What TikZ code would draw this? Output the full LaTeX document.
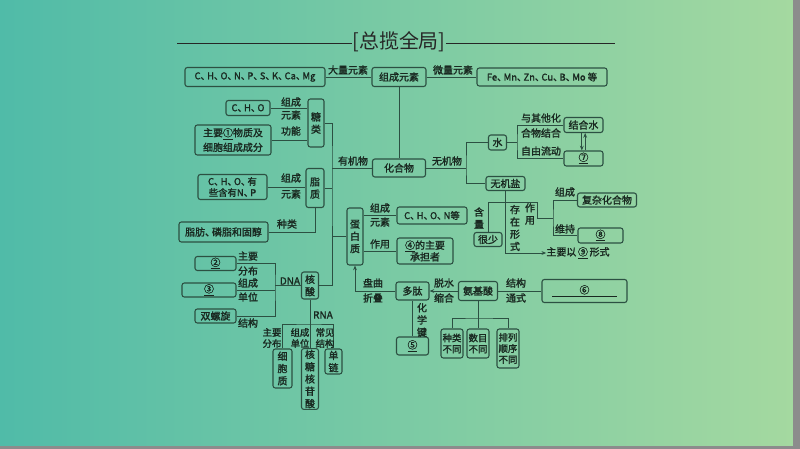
\documentclass[tikz,border=0pt]{standalone}
\usepackage{fontspec}
\setmainfont{Noto Sans CJK SC}
\newfontfamily\cjkb{Noto Sans CJK SC}[FakeBold=1.6]
\usetikzlibrary{arrows.meta}

\definecolor{bgleft}{RGB}{80,187,168}
\definecolor{bgright}{RGB}{165,217,160}
\definecolor{linec}{RGB}{44,80,66}
\definecolor{txtc}{RGB}{25,40,32}

\newcommand{\dn}{\makebox[0.7em][l]{、}}
\newcommand{\blank}[1]{\underline{#1}}

\begin{document}
\begin{tikzpicture}[x=0.03cm, y=-0.03cm, >={Stealth[length=4pt,width=3.2pt]},
    every node/.style={text=txtc, font=\cjkb\fontsize{8.5}{10}\selectfont},
    box/.style={draw=linec, line width=0.9pt, rounded corners=2pt, inner sep=1pt, align=center},
    vbox/.style={box, font=\cjkb\fontsize{8.5}{10.5}\selectfont},
    sz/.style 2 args={minimum width=#1*0.03cm, minimum height=#2*0.03cm},
    lab/.style={inner sep=0, align=center},
    vlab/.style={lab, font=\cjkb\fontsize{8.5}{10.5}\selectfont},
    small/.style={font=\cjkb\fontsize{8}{9.5}\selectfont},
    conn/.style={draw=linec, line width=0.8pt}]

    % Background
    \shade[left color=bgleft, right color=bgright] (0,0) rectangle (800,449);
    \fill[gray!90] (0,446) rectangle (800,449);
    \fill[gray!90] (793,0) rectangle (800,449);
    \useasboundingbox (0,0) rectangle (800,449);

    % Title
    \node[lab, text=black!85, font=\fontsize{17}{20}\selectfont] (title) at (399,42) {[总揽全局]};
    \coordinate (ttl) at (177,43);
    \coordinate (ttr) at (615,43);
    \draw[black!85, line width=0.8pt] (ttl) -- (title.west |- ttl);
    \draw[black!85, line width=0.8pt] (title.east |- ttr) -- (ttr);

    % Top row
    \node[box, small, sz={140}{19}] (dlys) at (255,77) {C\dn H\dn O\dn N\dn P\dn S\dn K\dn Ca\dn Mg};
    \node[box, sz={54}{19}] (zcys) at (399,77) {组成元素};
    \node[box, small, sz={130}{18}] (wlys) at (542,77) {Fe\dn Mn\dn Zn\dn Cu\dn B\dn Mo 等};
    \node[lab] (l1) at (348,70) {大量元素};
    \node[lab] (l2) at (453,70) {微量元素};
    \draw[conn] (dlys.east) -- (zcys.west);
    \draw[conn] (zcys.east) -- (wlys.west);

    % Compounds
    \node[box, sz={53}{18}] (hhw) at (399,168) {化合物};
    \draw[conn] (zcys.south) -- (hhw.north);
    \coordinate (yjw) at (332,168);
    \coordinate (wjw) at (466,168);
    \draw[conn] (hhw.west) -- (yjw);
    \draw[conn] (hhw.east) -- (wjw);
    \node[lab] (l3) at (353,161) {有机物};
    \node[lab] (l4) at (447,161) {无机物};

    % Sugars
    \node[vbox, sz={16}{48}] (tang) at (316,123) {糖\\类};
    \node[box, small, sz={44}{15}] (cho) at (248,108) {C\dn H\dn O};
    \node[box, sz={76}{30}, font=\cjkb\fontsize{8.5}{12.5}\selectfont] (gongneng) at (233,140) {主要\blank{①}物质及\\细胞组成成分};
    \draw[conn] (cho.east) -- (cho.east -| tang.west);
    \draw[conn] (gongneng.east) -- (gongneng.east -| tang.west);
    \node[lab] (l5) at (291,102) {组成};
    \node[lab] (l6) at (291,115) {元素};
    \node[lab] (l7) at (291,131) {功能};

    % Lipids
    \node[vbox, sz={18}{39}] (zhizhi) at (315,188) {脂\\质};
    \node[box, small, sz={69}{25}] (chonp) at (232.5,187) {C\dn H\dn O\dn 有\\些含有N\dn P};
    \node[box, sz={89}{20}] (zfl) at (223.5,232) {脂肪\dn 磷脂和固醇};
    \draw[conn] (chonp.east) -- (chonp.east -| zhizhi.west);
    \draw[conn] (zfl.east) -| (zhizhi.south);
    \node[lab] (l8) at (291,178) {组成};
    \node[lab] (l9) at (291,194) {元素};
    \node[lab] (l10) at (287,224) {种类};

    % Proteins
    \node[vbox, sz={16}{57}] (dbz) at (355,236.5) {蛋\\白\\质};
    \node[box, small, sz={70}{17}] (chon) at (432,215.5) {C\dn H\dn O\dn N等};
    \node[box, sz={56}{26}] (cdz) at (425,251) {\blank{④}的主要\\承担者};
    \draw[conn] (dbz.east |- chon.west) -- (chon.west);
    \draw[conn] (dbz.east |- cdz.west) -- (cdz.west);
    \node[lab] (l11) at (380,208) {组成};
    \node[lab] (l12) at (380,222) {元素};
    \node[lab] (l13) at (380,244) {作用};

    % Nucleic acids
    \node[vbox, sz={17}{27}] (hesuan) at (310,285.5) {核\\酸};
    \draw[conn] (tang.east) -| (yjw) |- (hesuan.east);
    \draw[conn] (zhizhi.east) -- (zhizhi.east -| yjw);
    \draw[conn] (dbz.west) -- (dbz.west -| yjw);

    % DNA
    \coordinate (dna) at (275,285.5);
    \node[box, sz={41}{13}] (k2) at (215.5,263.5) {\blank{②}};
    \node[box, sz={54}{14}] (k3) at (209,290) {\blank{③}};
    \node[box, sz={41}{14}] (slx) at (215.5,316) {双螺旋};
    \draw[conn] (hesuan.west) -- (dna);
    \draw[conn] (k2.east) -| (dna) |- (slx.east);
    \draw[conn] (k3.east) -- (k3.east -| dna);
    \node[lab] (l14) at (290,281) {DNA};
    \node[lab] (l15) at (248,256) {主要};
    \node[lab] (l16) at (248,271) {分布};
    \node[lab] (l17) at (248,283) {组成};
    \node[lab] (l18) at (248,297) {单位};
    \node[lab] (l19) at (248,323) {结构};

    % RNA
    \coordinate (rna) at (310,324);
    \node[vbox, sz={19}{39}] (xbz) at (282.5,368.5) {细\\胞\\质};
    \node[vbox, sz={17}{60}] (hthgs) at (310,379) {核\\糖\\核\\苷\\酸};
    \node[vbox, sz={17}{25}] (danlian) at (333.5,361.5) {单\\链};
    \draw[conn] (hesuan.south) -- (hthgs.north);
    \draw[conn] (xbz.north) |- (rna) -| (danlian.north);
    \node[lab] (l20) at (323,315) {RNA};
    \node[lab, small] (l21) at (272,338) {主要\\分布};
    \node[lab, small] (l22) at (300,338) {组成\\单位};
    \node[lab, small] (l23) at (325,338) {常见\\结构};

    % Peptides
    \node[box, sz={33}{18}] (duotai) at (412.5,291) {多肽};
    \node[box, sz={39}{19}] (ajs) at (478,291) {氨基酸};
    \node[box, sz={85}{23}] (k6) at (584.5,291) {\underline{\makebox[1.95cm]{⑥}}};
    \node[box, sz={32}{18}] (k5) at (412.5,346) {\blank{⑤}};
    \draw[conn, ->] (duotai.west) -| (dbz.south);
    \draw[conn, ->] (ajs.west) -- (duotai.east);
    \draw[conn] (ajs.east) -- (k6.west);
    \draw[conn] (duotai.south) -- (k5.north);
    \node[lab] (l24) at (373,283) {盘曲};
    \node[lab] (l25) at (373,298) {折叠};
    \node[lab] (l26) at (444,283) {脱水};
    \node[lab] (l27) at (444,298) {缩合};
    \node[lab] (l28) at (516,283) {结构};
    \node[lab] (l29) at (516,298) {通式};
    \node[vlab] (l30) at (422,320) {化\\学\\键};

    % Amino acid differences
    \coordinate (ajb) at (478,318);
    \node[box, small, sz={22}{29}] (zl) at (452,343.5) {种类\\不同};
    \node[box, small, sz={22}{29}] (sm) at (478,343.5) {数目\\不同};
    \node[box, small, sz={22}{39}] (pl) at (508,348.5) {排列\\顺序\\不同};
    \draw[conn] (ajs.south) -- (sm.north);
    \draw[conn] (zl.north) |- (ajb) -| (pl.north);

    % Water
    \node[box, sz={18}{15}] (shui) at (497.5,142.5) {水};
    \node[box, sz={39}{14}] (wjy) at (505.5,183.5) {无机盐};
    \draw[conn] (shui.west) -| (wjw) |- (wjy.west);
    \coordinate (sb) at (517,142.5);
    \node[box, sz={39}{15}] (jhs) at (583.5,125) {结合水};
    \node[box, sz={39}{15}] (k7) at (583.5,158.5) {\blank{⑦}};
    \draw[conn] (shui.east) -- (sb);
    \draw[conn] (jhs.west) -| (sb) |- (k7.west);
    \draw[conn, ->] ([xshift=0.05cm]k7.north) -- ([xshift=0.05cm]jhs.south);
    \draw[conn, ->] ([xshift=-0.05cm]jhs.south) -- ([xshift=-0.05cm]k7.north);
    \node[lab] (l31) at (541,118) {与其他化};
    \node[lab] (l32) at (541,133) {合物结合};
    \node[lab] (l33) at (541,151) {自由流动};

    % Inorganic salts
    \coordinate (zy) at (537,202);
    \coordinate (zyb) at (553,218);
    \node[box, sz={28}{14}] (henshao) at (488,239.5) {很少};
    \node[box, sz={59}{14}] (fzhhw) at (607,200) {复杂化合物};
    \node[box, sz={45}{15}] (k8) at (600.5,235.5) {\blank{⑧}};
    \node[lab] (zyxs) at (578,253) {主要以\,\blank{⑨}\,形式};
    \draw[conn] (henshao.north) |- (zy) |- (zyb);
    \draw[conn] (fzhhw.west) -| (zyb) |- (k8.west);
    \draw[conn, ->] (wjy.south) |- (zyxs.west);
    \node[vlab] (l34) at (479,218) {含\\量};
    \node[vlab] (l35) at (515,228) {存\\在\\形\\式};
    \node[vlab] (l36) at (530,214) {作\\用};
    \node[lab] (l37) at (565,192) {组成};
    \node[lab] (l38) at (565,229) {维持};

\end{tikzpicture}
\end{document}
